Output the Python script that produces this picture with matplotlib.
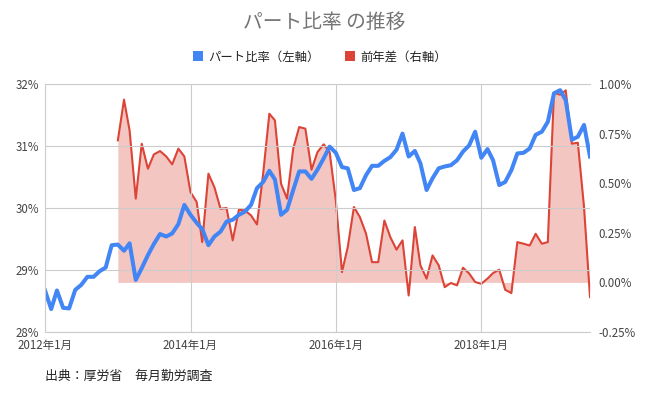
import matplotlib.pyplot as plt
from matplotlib.patches import Patch
import pandas as pd

plt.rcParams['font.family'] = ['Noto Sans CJK JP', 'DejaVu Sans']

# monthly data 2012-01 .. 2019-07
months = pd.date_range("2012-01-01", periods=91, freq="MS")

part_ratio = [
    28.67, 28.37, 28.67, 28.39, 28.38, 28.68, 28.76, 28.89, 28.89, 28.98, 29.04, 29.40,
    29.41, 29.31, 29.43, 28.84, 29.03, 29.24, 29.42, 29.58, 29.54, 29.59, 29.74, 30.05,
    29.89, 29.76, 29.66, 29.40, 29.54, 29.62, 29.78, 29.81, 29.89, 29.94, 30.05, 30.32,
    30.42, 30.60, 30.46, 29.89, 29.97, 30.29, 30.59, 30.59, 30.47, 30.62, 30.80, 30.99,
    30.89, 30.66, 30.64, 30.29, 30.32, 30.53, 30.68, 30.68, 30.76, 30.82, 30.94, 31.20,
    30.83, 30.92, 30.72, 30.29, 30.48, 30.64, 30.67, 30.69, 30.77, 30.91, 31.01, 31.23,
    30.81, 30.95, 30.77, 30.37, 30.42, 30.61, 30.88, 30.89, 30.96, 31.18, 31.23, 31.39,
    31.85, 31.90, 31.74, 31.10, 31.15, 31.34, 30.83,
]

# year-over-year difference, starts 2013-01
yoy_diff = [
    0.716, 0.921, 0.766, 0.422, 0.699, 0.573, 0.645, 0.662, 0.635, 0.595, 0.674, 0.635,
    0.455, 0.405, 0.203, 0.548, 0.480, 0.371, 0.375, 0.212, 0.366, 0.363, 0.338, 0.292,
    0.548, 0.850, 0.817, 0.497, 0.422, 0.674, 0.783, 0.775, 0.568, 0.657, 0.696, 0.657,
    0.413, 0.052, 0.178, 0.380, 0.329, 0.245, 0.102, 0.102, 0.312, 0.228, 0.165, 0.212,
    -0.066, 0.279, 0.086, 0.019, 0.136, 0.086, -0.024, -0.003, -0.015, 0.074, 0.045, 0.002,
    -0.007, 0.019, 0.047, 0.064, -0.037, -0.054, 0.203, 0.195, 0.186, 0.245, 0.195, 0.203,
    0.956, 0.946, 0.968, 0.699, 0.704, 0.38, -0.074,
]
yoy_months = months[12:]

left_ticks = [28, 29, 30, 31, 32]
right_ticks = [-0.25, 0.0, 0.25, 0.5, 0.75, 1.0]
xtick_dates = pd.to_datetime(["2012-01-01", "2014-01-01", "2016-01-01", "2018-01-01"])
xtick_labels = ["2012年1月", "2014年1月", "2016年1月", "2018年1月"]

BLUE = "#4285F4"
RED = "#DB4437"
GRID = "#cccccc"
TICK = "#444444"

fig = plt.figure(figsize=(6.48, 4.01), dpi=100)
ax = fig.add_axes([45 / 648, 69 / 401, 545 / 648, 248 / 401])
ax2 = ax.twinx()
ax.set_zorder(ax2.get_zorder() + 1)
ax.patch.set_visible(False)

ax2.fill_between(yoy_months, 0, yoy_diff, color=RED, alpha=0.3, lw=0)
ax2.plot(yoy_months, yoy_diff, color=RED, lw=1.5)
ax.plot(months, part_ratio, color=BLUE, lw=2.9)

ax.set_xlim(months[0], months[-1])
ax.set_ylim(28, 32)
ax2.set_ylim(-0.25, 1.0)

ax.set_yticks(left_ticks)
ax.set_yticklabels([f"{v}%" for v in left_ticks])
ax2.set_yticks(right_ticks)
ax2.set_yticklabels([f"{v:.2f}%" for v in right_ticks])
ax.set_xticks(xtick_dates)
ax.set_xticklabels(xtick_labels)

ax.grid(color=GRID, lw=0.8)
ax.set_axisbelow(True)
for s in ["left", "top", "bottom"]:
    ax.spines[s].set_color(GRID)
    ax.spines[s].set_linewidth(0.8)
ax.spines["right"].set_visible(False)
for s in ax2.spines.values():
    s.set_visible(False)

ax.tick_params(axis="both", length=0, labelcolor=TICK, labelsize=8.3)
ax.tick_params(axis="y", pad=4)
ax.tick_params(axis="x", pad=5)
ax2.tick_params(axis="y", length=0, labelcolor=TICK, labelsize=8.3, pad=6)

fig.text(0.5, 1 - 22 / 401, "パート比率 の推移", ha="center", va="center",
         fontsize=14.2, color="#757575")

handles = [Patch(facecolor=BLUE, edgecolor="none"), Patch(facecolor=RED, edgecolor="none")]
fig.legend(handles, ["パート比率（左軸）", "前年差（右軸）"], loc="center",
           bbox_to_anchor=(320 / 648, 1 - 57 / 401), ncol=2, frameon=False,
           fontsize=8.9, handlelength=0.85, handleheight=0.85, handletextpad=0.45,
           columnspacing=2.0, labelcolor="#222222")

fig.text(45 / 648, 1 - 376 / 401, "出典：厚労省　毎月勤労調査", ha="left", va="center",
         fontsize=9.3, color="#222222")

fig.savefig("out.png", dpi=100)
